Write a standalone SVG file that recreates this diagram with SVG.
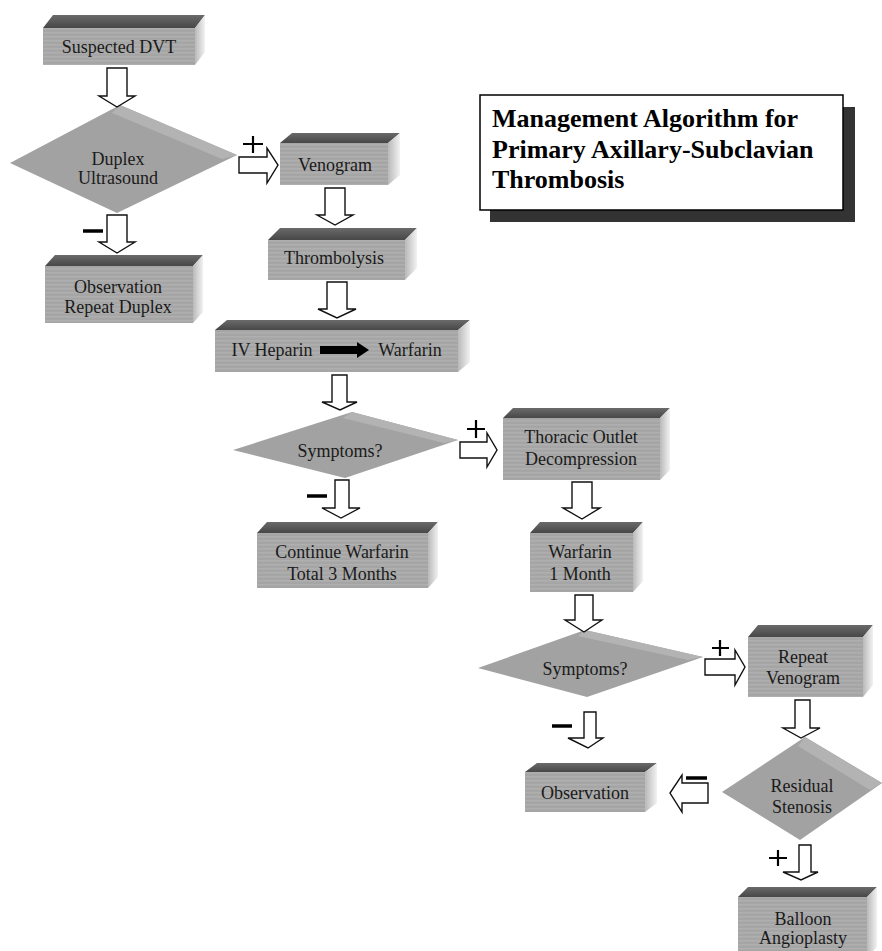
<svg xmlns="http://www.w3.org/2000/svg" width="882" height="951" viewBox="0 0 882 951">
<style>
.front{fill:url(#stripes)}
.top{fill:url(#topG)}
.side{fill:url(#sideG)}
.dia{fill:#a2a2a2}
.band{fill:#b3b3b3}
.arr{fill:#fff;stroke:#111;stroke-width:1.4;stroke-linejoin:miter}
.t{font-family:"Liberation Serif","Times New Roman",serif;font-size:18px;fill:#1a1a1a;text-anchor:middle}
.ttl{font-family:"Liberation Serif","Times New Roman",serif;font-size:26px;font-weight:bold;fill:#000}
.plus{stroke:#000;stroke-width:2.2;fill:none}
.minus{stroke:#000;stroke-width:3.5;fill:none}
</style>
<defs>
<pattern id="stripes" width="6" height="4" patternUnits="userSpaceOnUse">
<rect width="6" height="4" fill="#a5a5a5"/>
<rect y="0" width="6" height="1.5" fill="#afafaf"/>
</pattern>
<linearGradient id="topG" x1="0" y1="0" x2="0" y2="1">
<stop offset="0" stop-color="#6a6a6a"/>
<stop offset="1" stop-color="#474747"/>
</linearGradient>
<linearGradient id="sideG" x1="0" y1="0" x2="1" y2="0">
<stop offset="0" stop-color="#b9b9b9"/>
<stop offset="1" stop-color="#f2f2f2"/>
</linearGradient>
</defs>
<rect width="882" height="951" fill="#fff"/>

<g id="title">
<rect x="490" y="107" width="365" height="115" fill="#333"/>
<rect x="480" y="95" width="363" height="115" fill="#fff" stroke="#000" stroke-width="1.5"/>
<text class="ttl" x="492" y="127">Management Algorithm for</text>
<text class="ttl" x="492" y="158">Primary Axillary-Subclavian</text>
<text class="ttl" x="492" y="188">Thrombosis</text>
</g>

<g id="n-suspected-dvt">
<polygon class="top" points="43,28 53,15 205,15 195,28"/>
<polygon class="side" points="195,28 205,15 205,52 195,65"/>
<rect class="front" x="43" y="28" width="152" height="37"/>
<text class="t" x="119" y="53">Suspected DVT</text>
</g>

<g id="n-duplex">
<polygon class="dia" points="10,163 120,105 237,155 117,213"/>
<polygon class="band" points="120,105 237,155 222,159 112,113"/>
<text class="t" x="118" y="165">Duplex</text>
<text class="t" x="118" y="184">Ultrasound</text>
</g>

<g id="n-observation-repeat">
<polygon class="top" points="45,266 55,255 203,255 193,266"/>
<polygon class="side" points="193,266 203,255 203,312 193,323"/>
<rect class="front" x="45" y="266" width="148" height="57"/>
<text class="t" x="118" y="293">Observation</text>
<text class="t" x="118" y="313">Repeat Duplex</text>
</g>

<g id="n-venogram">
<polygon class="top" points="280,143 292,133 400,133 388,143"/>
<polygon class="side" points="388,143 400,133 400,175 388,185"/>
<rect class="front" x="280" y="143" width="108" height="42"/>
<text class="t" x="335" y="171">Venogram</text>
</g>

<g id="n-thrombolysis">
<polygon class="top" points="268,240 280,228 417,228 405,240"/>
<polygon class="side" points="405,240 417,228 417,268 405,280"/>
<rect class="front" x="268" y="240" width="137" height="40"/>
<text class="t" x="334" y="264">Thrombolysis</text>
</g>

<g id="n-heparin-warfarin">
<polygon class="top" points="215,330 227,320 470,320 458,330"/>
<polygon class="side" points="458,330 470,320 470,362 458,372"/>
<rect class="front" x="215" y="330" width="243" height="42"/>
<text class="t" x="272" y="356">IV Heparin</text>
<polygon points="320,346 357,346 357,342 369,350 357,358 357,354 320,354" fill="#000"/>
<text class="t" x="410" y="356">Warfarin</text>
</g>

<g id="n-symptoms-1">
<polygon class="dia" points="233,450 352,412 458,440 345,478"/>
<polygon class="band" points="352,412 458,440 444,443 343,418"/>
<text class="t" x="340" y="457">Symptoms?</text>
</g>

<g id="n-continue-warfarin">
<polygon class="top" points="257,533 267,522 438,522 428,533"/>
<polygon class="side" points="428,533 438,522 438,577 428,588"/>
<rect class="front" x="257" y="533" width="171" height="55"/>
<text class="t" x="342" y="558">Continue Warfarin</text>
<text class="t" x="342" y="580">Total 3 Months</text>
</g>

<g id="n-thoracic-outlet">
<polygon class="top" points="503,418 513,408 670,408 660,418"/>
<polygon class="side" points="660,418 670,408 670,470 660,480"/>
<rect class="front" x="503" y="418" width="157" height="62"/>
<text class="t" x="581" y="443">Thoracic Outlet</text>
<text class="t" x="581" y="465">Decompression</text>
</g>

<g id="n-warfarin-1-month">
<polygon class="top" points="530,533 540,522 643,522 633,533"/>
<polygon class="side" points="633,533 643,522 643,581 633,592"/>
<rect class="front" x="530" y="533" width="103" height="59"/>
<text class="t" x="580" y="558">Warfarin</text>
<text class="t" x="580" y="580">1 Month</text>
</g>

<g id="n-symptoms-2">
<polygon class="dia" points="478,668 585,630 703,657 587,697"/>
<polygon class="band" points="585,630 703,657 688,660 578,636"/>
<text class="t" x="585" y="675">Symptoms?</text>
</g>

<g id="n-repeat-venogram">
<polygon class="top" points="748,637 758,625 873,625 863,637"/>
<polygon class="side" points="863,637 873,625 873,685 863,697"/>
<rect class="front" x="748" y="637" width="115" height="60"/>
<text class="t" x="803" y="663">Repeat</text>
<text class="t" x="803" y="684">Venogram</text>
</g>

<g id="n-residual-stenosis">
<polygon class="dia" points="722,792 805,737 882,783 800,840"/>
<polygon class="band" points="805,737 882,783 870,790 798,746"/>
<text class="t" x="802" y="792">Residual</text>
<text class="t" x="802" y="813">Stenosis</text>
</g>

<g id="n-observation">
<polygon class="top" points="525,772 537,763 657,763 645,772"/>
<polygon class="side" points="645,772 657,763 657,803 645,812"/>
<rect class="front" x="525" y="772" width="120" height="40"/>
<text class="t" x="585" y="799">Observation</text>
</g>

<g id="n-balloon">
<polygon class="top" points="738,897 748,887 877,887 867,897"/>
<polygon class="side" points="867,897 877,887 877,947 867,957"/>
<rect class="front" x="738" y="897" width="129" height="60"/>
<text class="t" x="803" y="925">Balloon</text>
<text class="t" x="803" y="944">Angioplasty</text>
</g>

<g id="connectors">
<polygon class="arr" points="107,68 127,68 127,96 135,96 117,107 99,96 107,96"/>
<polygon class="arr" points="107,215 127,215 127,242 135,242 117,253 99,242 107,242"/>
<line class="minus" x1="83" y1="231" x2="103" y2="231"/>
<polygon class="arr" points="239,157 267,157 267,148 278,165 267,183 267,173 239,173"/>
<path class="plus" d="M243,144 H263 M253,136 V153"/>
<polygon class="arr" points="325,188 345,188 345,215 353,215 335,225 317,215 325,215"/>
<polygon class="arr" points="327,282 347,282 347,309 356,309 337,318 318,309 327,309"/>
<polygon class="arr" points="332,375 347,375 347,402 357,402 340,410 322,402 332,402"/>
<polygon class="arr" points="335,480 349,480 349,508 360,508 341,518 322,508 335,508"/>
<line class="minus" x1="307" y1="496" x2="327" y2="496"/>
<polygon class="arr" points="460,442 487,442 487,433 497,450 487,467 487,458 460,458"/>
<path class="plus" d="M467,429 H485 M476,420 V438"/>
<polygon class="arr" points="572,482 592,482 592,508 600,508 582,519 563,508 572,508"/>
<polygon class="arr" points="575,595 593,595 593,620 602,620 584,632 565,620 575,620"/>
<polygon class="arr" points="705,659 735,659 735,650 745,667 735,685 735,675 705,675"/>
<path class="plus" d="M712,648 H729 M720,640 V656"/>
<polygon class="arr" points="795,700 810,700 810,728 820,728 801,738 783,728 795,728"/>
<polygon class="arr" points="708,783 682,783 682,775 670,793 682,812 682,803 708,803"/>
<line class="minus" x1="686" y1="778" x2="707" y2="778"/>
<polygon class="arr" points="584,712 596,712 596,738 603,738 588,748 568,738 584,738"/>
<line class="minus" x1="552" y1="726" x2="572" y2="726"/>
<polygon class="arr" points="799,845 811,845 811,872 818,872 801,880 783,872 799,872"/>
<path class="plus" d="M769,858 H787 M778,850 V866"/>
</g>
</svg>
